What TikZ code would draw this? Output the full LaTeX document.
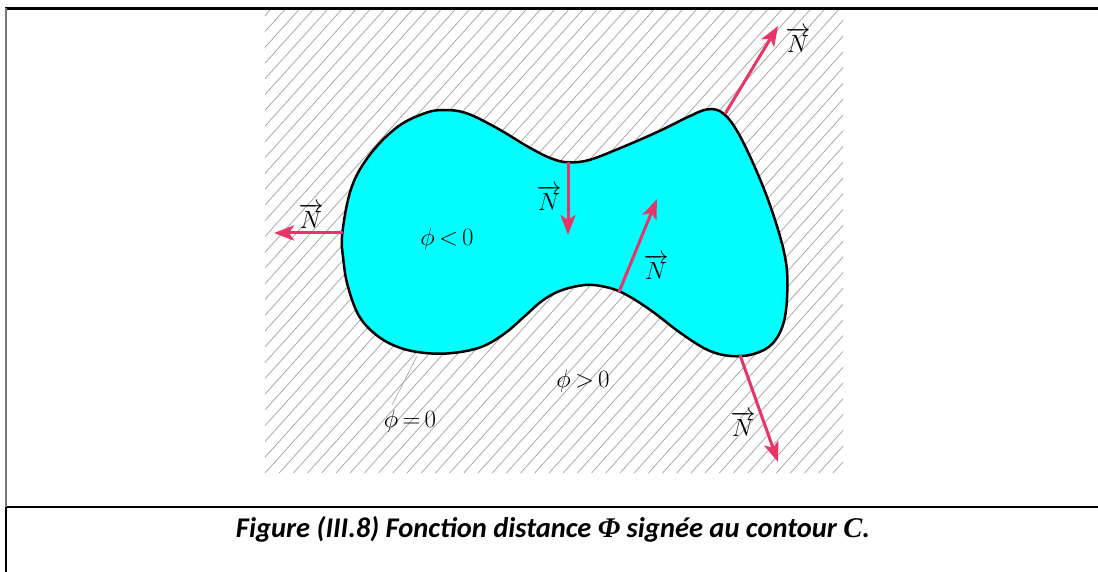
\documentclass[tikz,border=0pt]{standalone}
\usepackage{fontspec}
\newfontfamily\capfont{Carlito}
\newfontfamily\capserif{Liberation Serif}
\usetikzlibrary{arrows.meta}
\definecolor{cyanfill}{RGB}{0,255,255}
\definecolor{normalc}{RGB}{232,52,102}
\definecolor{hatchc}{RGB}{165,165,165}
\definecolor{borderg}{RGB}{120,120,120}
\tikzset{
  normalarrow/.style={draw=normalc, line width=3pt, -{Stealth[length=20pt,width=15pt,inset=5pt]}},
  hatchline/.style={draw=hatchc, line width=0.75pt},
  lbl/.style={inner sep=0pt, font=\fontsize{24}{28}\selectfont},
  rule/.style={line width=2.5pt, black}
}
\begin{document}
\begin{tikzpicture}[x=1pt,y=-1pt]
\useasboundingbox (0,0) rectangle (1098,572);
\fill[white] (0,0) rectangle (1098,572);
% frame
\draw[rule] (5,8.5) -- (1098,8.5);
\draw[rule] (5,507) -- (1098,507);
\draw[line width=2pt, borderg] (6,8) -- (6,507);
\draw[line width=2pt, black] (6,507) -- (6,572);
% hatching
\begin{scope}
\clip (265,10) rectangle (843,473);
\foreach \i in {-30,...,42} \draw[hatchline] ({265+\i*14.2},473) -- ++(417,-463);
\end{scope}
% contour
\draw[fill=cyanfill, line width=2.5pt] plot[smooth cycle, tension=0.6] coordinates {
(342.3,233.3) (351.8,186.7) (371.0,153.3) (397.8,126.7) (424.6,113.3) (443.7,110)
(466.7,113.3) (497.3,128.3) (527.9,146.7) (550.9,158.3) (568.1,162.3) (589.1,160)
(619.7,148.3) (658.0,131.7) (688.6,116.7) (707.8,109.3) (723.1,113.3) (738.4,133.3)
(757.5,173.3) (772.8,213.3) (784.3,253.3) (787.4,283.3) (784.3,320) (772.8,343.3)
(753.7,354) (730.7,356) (707.8,350) (681.0,333.3) (650.4,310) (623.6,293.3)
(604.4,286.7) (585.3,285) (562.3,290) (543.2,300) (524.1,316.7) (504.9,333.3)
(482.0,346.7) (455.2,352.7) (428.4,353.3) (401.6,348.3) (378.6,336.7) (359.5,316.7)
(348.0,286.7) (343.4,260)};
% arrow anchor points
\coordinate (pL) at (343,233);
\coordinate (tL) at (274,233);
\coordinate (pTR) at (725,114);
\coordinate (tTR) at (778,26);
\coordinate (pD) at (568,162);
\coordinate (tD) at (568,235);
\coordinate (pU) at (619,292);
\coordinate (tU) at (657,199);
\coordinate (pBR) at (740,355);
\coordinate (tBR) at (778,462);
\coordinate (lead1) at (417,356);
\coordinate (lead2) at (392,405);
\draw[normalarrow] (pL) -- (tL);
\draw[normalarrow] (pTR) -- (tTR);
\draw[normalarrow] (pD) -- (tD);
\draw[normalarrow] (pU) -- (tU);
\draw[normalarrow] (pBR) -- (tBR);
\draw[hatchc, line width=0.6pt] (lead1) -- (lead2);
% labels
\node[lbl] (nL) at (311,216) {$\overrightarrow{N}$};
\node[lbl] (nTR) at (798,40) {$\overrightarrow{N}$};
\node[lbl] (nD) at (549,198) {$\overrightarrow{N}$};
\node[lbl] (nU) at (656,267) {$\overrightarrow{N}$};
\node[lbl] (nBR) at (743,424) {$\overrightarrow{N}$};
\node[lbl] (neg) at (447,239) {$\phi\,{<}\,0$};
\node[lbl] (pos) at (583,381) {$\phi\,{>}\,0$};
\node[lbl] (zero) at (410,421) {$\phi\,{=}\,0$};
% caption
\node[anchor=base, inner sep=0pt, font=\capfont\bfseries\itshape\fontsize{28.5}{32}\selectfont] (cap) at (553,537)
  {Figure (III.8) Fonction distance {\capserif\bfseries\itshape Φ} signée au contour {\capserif\bfseries\itshape C}.};
\end{tikzpicture}
\end{document}
